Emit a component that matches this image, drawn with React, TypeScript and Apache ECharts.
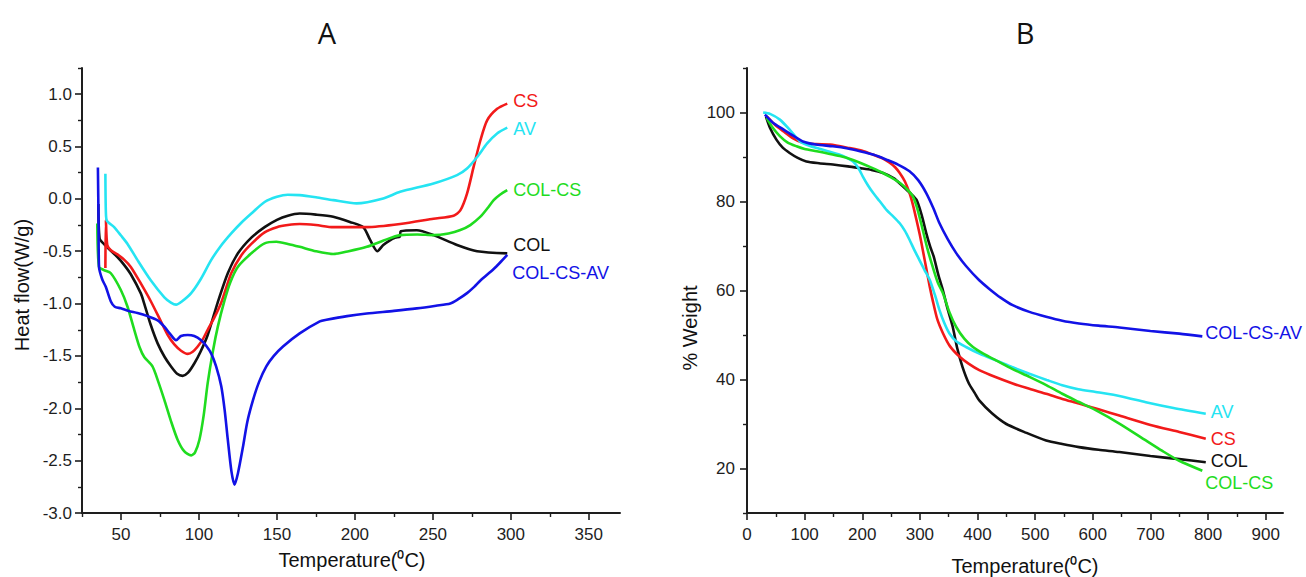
import React, { useEffect, useRef } from "react";
import * as echarts from "echarts";

type Pt = [number, number];

// ---- Panel A: DSC heat flow (temperature °C, heat flow W/g) ----
const dscCS: Pt[] = [
  [40.0, -0.66], [40.3, -0.2], [41.2, -0.44], [43.5, -0.49], [47.7, -0.53], [52, -0.58], [56.3, -0.65],
  [62.8, -0.81], [69.2, -0.98], [75.6, -1.17], [80, -1.3], [84.2, -1.39], [88.5, -1.45], [92.8, -1.48],
  [96, -1.46], [99.2, -1.41], [102.5, -1.34], [105.6, -1.25], [110, -1.13], [114.3, -0.99], [120.7, -0.71],
  [127.1, -0.54], [133.6, -0.43], [142.1, -0.32], [150, -0.27], [157, -0.25], [164.6, -0.24], [175, -0.25],
  [186.1, -0.27], [207.6, -0.27], [229, -0.24], [250.4, -0.19], [263.3, -0.16], [267.6, -0.11], [271.9, 0.05],
  [276.2, 0.31], [280.5, 0.56], [284.8, 0.75], [291.2, 0.86], [297.7, 0.91],
];
const dscAV: Pt[] = [
  [40.0, 0.24], [40.3, -0.12], [41.0, -0.21], [45.6, -0.27], [50, -0.35], [54.2, -0.43], [60.6, -0.585],
  [69.2, -0.78], [77.8, -0.94], [82, -0.99], [85.3, -1.01], [89, -0.98], [95, -0.9], [101, -0.77],
  [107.8, -0.585], [114, -0.45], [120.7, -0.33], [127, -0.23], [133.6, -0.14], [142.1, -0.03], [150, 0.02],
  [157, 0.04], [164.6, 0.036], [175, 0.015], [186.1, -0.012], [201.1, -0.043], [218.2, 0.004], [229, 0.067],
  [250.4, 0.147], [265.5, 0.227], [271.9, 0.29], [278.4, 0.4], [284.8, 0.53], [291.2, 0.625], [297.7, 0.68],
];
const dscCOL: Pt[] = [
  [35.5, -0.05], [36.3, -0.38], [39, -0.43], [43, -0.49], [47.7, -0.555], [52, -0.63], [56.3, -0.72],
  [62.8, -0.905], [64.9, -1.0], [69, -1.2], [73.5, -1.38], [78, -1.51], [82.1, -1.6], [86, -1.67], [89.5, -1.69],
  [93, -1.66], [97.1, -1.57], [101, -1.46], [105.6, -1.3], [112, -0.99], [118.5, -0.71], [125, -0.52],
  [133.6, -0.37], [142.1, -0.27], [150, -0.2], [157, -0.16], [164.6, -0.14], [175, -0.15], [186.1, -0.17],
  [196.8, -0.22], [205.4, -0.27], [209.7, -0.39], [214.4, -0.5], [218.2, -0.44], [222, -0.4], [226, -0.37],
  [228.8, -0.36], [229.4, -0.31], [239.7, -0.3], [250.4, -0.346], [265.5, -0.44], [278.4, -0.5], [297.7, -0.52],
];
const dscCOLCS: Pt[] = [
  [34.8, -0.235], [35.9, -0.65], [39, -0.68], [43.5, -0.71], [49.9, -0.87], [54.2, -1.03], [58.5, -1.25],
  [62, -1.42], [64.9, -1.51], [70.2, -1.6], [74, -1.75], [77.8, -1.92], [82, -2.12], [86.3, -2.3], [90.5, -2.41],
  [95, -2.45], [97.5, -2.42], [100.3, -2.3], [103, -2.07], [105.6, -1.76], [109, -1.45], [112.1, -1.22],
  [116.4, -0.97], [120, -0.8], [124.9, -0.65], [133.6, -0.52], [142.1, -0.425], [149.6, -0.41], [157, -0.43],
  [164.6, -0.458], [175, -0.5], [186.1, -0.527], [196, -0.5], [207.6, -0.458], [218, -0.4], [229, -0.346],
  [240, -0.34], [250.4, -0.346], [260, -0.33], [267.6, -0.298], [274, -0.25], [280.5, -0.17], [285, -0.09],
  [289, -0.012], [293, 0.04], [297.7, 0.084],
];
const dscCOLCSAV: Pt[] = [
  [35.2, 0.3], [35.6, -0.2], [35.9, -0.65], [38, -0.77], [40.25, -0.84], [43.5, -0.98], [46, -1.03],
  [49.9, -1.045], [55, -1.07], [60.6, -1.09], [67, -1.12], [73.5, -1.16], [77.8, -1.22], [81.5, -1.29],
  [85.3, -1.35], [88.5, -1.31], [92.8, -1.3], [97, -1.31], [101.4, -1.35], [104.5, -1.4], [107.8, -1.475],
  [111, -1.6], [114.3, -1.79], [116.5, -2.02], [118.5, -2.3], [120.8, -2.6], [122.8, -2.73], [125, -2.62],
  [128.2, -2.37], [131, -2.13], [134.6, -1.925], [138.5, -1.75], [143.2, -1.6], [148, -1.5], [153.9, -1.41],
  [164.6, -1.285], [177.5, -1.17], [181.8, -1.155], [195, -1.12], [207.6, -1.095], [225, -1.07],
  [239.7, -1.046], [252, -1.02], [261.2, -0.998], [266, -0.96], [271.9, -0.9], [276.5, -0.84], [280.5, -0.78],
  [289, -0.67], [293, -0.61], [297.7, -0.535],
];

// ---- Panel B: TGA weight loss (temperature °C, % weight) ----
const tgaCS: Pt[] = [
  [34, 99.2], [48, 97.3], [63, 95.8], [80, 94.2], [97, 93.2], [120, 92.9], [144, 92.8], [178, 92.0], [200, 91.4],
  [219, 90.5], [235, 89.7], [247.5, 88.7], [257, 87.7], [265, 86.4], [274, 84.5], [282, 81.9], [288, 79.2],
  [294, 75.9], [300, 72.4], [305, 69.1], [311, 65.0], [317, 60.9], [322, 57.9], [330, 53.6], [340, 50.4],
  [352, 47.5], [369, 45.1], [385, 43.5], [403, 42.1], [430, 40.6], [461, 39.1], [490, 37.9], [519, 36.8],
  [546, 35.7], [576, 34.6], [610, 33.3], [646, 31.9], [700, 29.8], [750, 28.2], [796, 26.7],
];
const tgaAV: Pt[] = [
  [28, 100], [40, 99.7], [57, 98.4], [75, 96], [92, 93.5], [105, 92.7], [121, 92.0], [140, 91.3], [161, 90.5],
  [175, 89.7], [184, 89.0], [193, 87.6], [201, 85.6], [210, 83.6], [219, 81.9], [230, 80.1], [242, 78.1],
  [254, 76.6], [265, 75.1], [274, 73.4], [282, 71.4], [290, 69.2], [299, 66.9], [308, 64.6], [317, 62.4],
  [326, 59.0], [334, 55.6], [342, 52.8], [351, 50.4], [363, 48.6], [380, 47.3], [405, 45.7], [432, 44.3],
  [460, 42.8], [490, 41.3], [520, 39.9], [547, 38.7], [575, 37.8], [605, 37.2], [650, 36.2], [692, 34.9],
  [740, 33.6], [796, 32.3],
];
const tgaCOL: Pt[] = [
  [33, 99.0], [40, 96.5], [51, 93.9], [62, 92.1], [74, 90.9], [88, 89.8], [103, 89.0], [125, 88.6], [149, 88.3],
  [175, 87.9], [196, 87.5], [216, 87.1], [236, 86.4], [255, 85.2], [270.5, 83.4], [283, 81.9], [294, 80.4],
  [303, 77.0], [311, 72.9], [318, 69.8], [324, 67.6], [332, 63.5], [340, 60.0], [348, 55.9], [357, 51.8],
  [365, 46.9], [374, 42.8], [385, 39.1], [395, 37.0], [403, 35.3], [425, 32.4], [450, 30.0], [485, 28.0],
  [519, 26.3], [547, 25.5], [576, 24.8], [610, 24.2], [646, 23.7], [700, 22.8], [750, 22.1], [796, 21.4],
];
const tgaCOLCS: Pt[] = [
  [34, 98.8], [45, 96.5], [57, 94.7], [70, 93.3], [86, 92.4], [100, 91.8], [121, 91.3], [140, 90.8], [161, 90.2],
  [180, 89.5], [196, 88.7], [216, 87.6], [236, 86.4], [250, 85.4], [265, 84.2], [278, 82.7], [288, 81.1],
  [296, 78.2], [305, 73.6], [313, 69.4], [322, 65.4], [331, 61.8], [340, 59.4], [351, 55.2], [363, 51.8],
  [377, 49.2], [392, 47.3], [410, 45.8], [432, 44.3], [460, 42.4], [490, 40.6], [520, 38.7], [547, 36.8],
  [575, 35.0], [605, 33.1], [646, 30.1], [692, 26.3], [720, 24.0], [749, 21.8], [790, 19.5],
];
const tgaCOLCSAV: Pt[] = [
  [31, 99.5], [45, 97.7], [63, 96.2], [80, 94.8], [97, 93.5], [120, 92.8], [149, 92.4], [175, 91.9], [196, 91.3],
  [220, 90.5], [242, 89.4], [262, 88.3], [282, 86.8], [297, 84.8], [311, 81.9], [323, 78.6], [334, 75.1],
  [348, 71.6], [363, 68.4], [380, 65.5], [403, 62.3], [421, 60.3], [440, 58.4], [461, 56.7], [490, 55.2],
  [519, 54.1], [547, 53.2], [576, 52.6], [610, 52.1], [646, 51.7], [700, 50.9], [750, 50.3], [790, 49.7],
];

// ---- Tick values ----
const dscXMajor = [50, 100, 150, 200, 250, 300, 350];
const dscXMinor = [25, 75, 125, 175, 225, 275, 325];
const dscYMajor = [-3, -2.5, -2, -1.5, -1, -0.5, 0, 0.5, 1];
const dscYMinor = [-2.75, -2.25, -1.75, -1.25, -0.75, -0.25, 0.25, 0.75, 1.25];
const tgaXMajor = [0, 100, 200, 300, 400, 500, 600, 700, 800, 900];
const tgaXMinor = [50, 150, 250, 350, 450, 550, 650, 750, 850];
const tgaYMajor = [20, 40, 60, 80, 100];
const tgaYMinor = [10, 30, 50, 70, 90, 110];

const FONT = "'Liberation Sans', Arial, sans-serif";
const INK = "#1e1e1e";
const C_RED = "#f21a1a";
const C_CYAN = "#25e4f2";
const C_BLACK = "#111111";
const C_GREEN = "#1fdc1f";
const C_BLUE = "#1212e6";

function curve(name: string, data: Pt[], color: string, idx: number, dx: number, dy: number) {
  return {
    type: "line",
    name,
    data,
    xAxisIndex: idx,
    yAxisIndex: idx,
    showSymbol: false,
    symbol: "none",
    smooth: 0.25,
    lineStyle: { color, width: 2.6 },
    itemStyle: { color },
    emphasis: { disabled: true },
    endLabel: {
      show: true,
      formatter: name,
      color,
      fontSize: 18,
      fontFamily: FONT,
      distance: 0,
      offset: [dx, dy],
    },
  };
}

function majorAxis(grid: number, pos: string, min: number, max: number, ticks: number[], fmt: (v: number) => string, margin: number) {
  return {
    type: "value",
    gridIndex: grid,
    position: pos,
    min,
    max,
    axisLine: { show: true, onZero: false, lineStyle: { color: INK, width: 2 } },
    splitLine: { show: false },
    axisTick: { show: true, inside: false, length: 7, customValues: ticks, lineStyle: { color: INK, width: 1.6 } },
    axisLabel: { show: true, customValues: ticks, formatter: fmt, color: INK, fontSize: 17, fontFamily: FONT, margin },
  };
}

function minorAxis(grid: number, pos: string, min: number, max: number, ticks: number[]) {
  return {
    type: "value",
    gridIndex: grid,
    position: pos,
    min,
    max,
    axisLine: { show: false, onZero: false },
    splitLine: { show: false },
    axisLabel: { show: false },
    axisTick: { show: true, inside: false, length: 4, customValues: ticks, lineStyle: { color: INK, width: 1.4 } },
  };
}

function textEl(text: string, x: number, y: number, size: number, family: string, rotation = 0) {
  return {
    type: "text",
    x,
    y,
    rotation,
    silent: true,
    style: { text, fill: "#111", fontSize: size, fontFamily: family, align: "center", verticalAlign: "middle" },
  };
}

export default function App() {
  const ref = useRef<HTMLDivElement>(null);

  useEffect(() => {
    if (!ref.current) return;
    const chart = echarts.init(ref.current, undefined, { renderer: "svg" });
    const one = (v: number) => v.toFixed(1);
    const int = (v: number) => String(v);

    chart.setOption({
      animation: false,
      backgroundColor: "#ffffff",
      grid: [
        { left: 82, right: 686, top: 68, bottom: 64, outerBoundsMode: "none" },
        { left: 747, right: 23, top: 68, bottom: 64, outerBoundsMode: "none" },
      ],
      xAxis: [
        majorAxis(0, "bottom", 25, 370, dscXMajor, int, 13),
        majorAxis(1, "bottom", 0, 930, tgaXMajor, int, 13),
        minorAxis(0, "bottom", 25, 370, dscXMinor),
        minorAxis(1, "bottom", 0, 930, tgaXMinor),
      ],
      yAxis: [
        majorAxis(0, "left", -3, 1.25, dscYMajor, one, 10),
        majorAxis(1, "left", 10, 110, tgaYMajor, int, 12),
        minorAxis(0, "left", -3, 1.25, dscYMinor),
        minorAxis(1, "left", 10, 110, tgaYMinor),
      ],
      series: [
        curve("COL", dscCOL, C_BLACK, 0, 6, -8),
        curve("CS", dscCS, C_RED, 0, 6, -3),
        curve("AV", dscAV, C_CYAN, 0, 6, 1),
        curve("COL-CS", dscCOLCS, C_GREEN, 0, 6, 0),
        curve("COL-CS-AV", dscCOLCSAV, C_BLUE, 0, 5, 18),
        curve("COL", tgaCOL, C_BLACK, 1, 5, -1),
        curve("CS", tgaCS, C_RED, 1, 5, 0),
        curve("AV", tgaAV, C_CYAN, 1, 5, -2),
        curve("COL-CS", tgaCOLCS, C_GREEN, 1, 3, 12),
        curve("COL-CS-AV", tgaCOLCSAV, C_BLUE, 1, 3, -3),
      ],
      graphic: [
        textEl("A", 327, 32, 29, "'Open Sans', sans-serif"),
        textEl("B", 1025, 32, 29, "'Open Sans', sans-serif"),
        textEl("Heat flow(W/g)", 22, 285, 20, FONT, Math.PI / 2),
        textEl("Temperature(\u2070C)", 352, 560, 20, FONT),
        textEl("% Weight", 690, 328, 20, FONT, Math.PI / 2),
        textEl("Temperature(\u2070C)", 1025, 566, 20, FONT),
      ],
    });

    return () => chart.dispose();
  }, []);

  return (
    <div
      ref={ref}
      style={{ position: "fixed", left: 0, top: 0, width: 1306, height: 577, background: "#fff" }}
    />
  );
}
